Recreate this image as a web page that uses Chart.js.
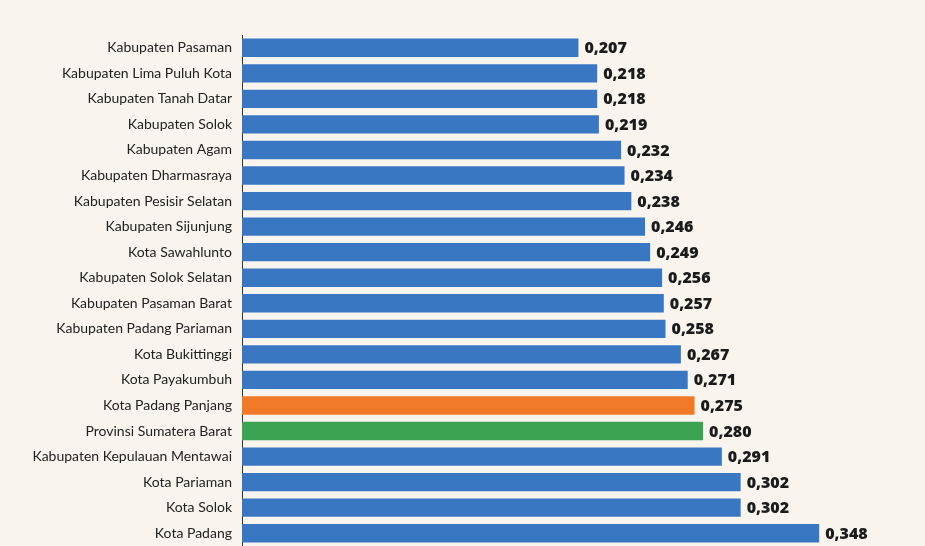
<html lang="id">
<head>
  <meta charset="UTF-8">
  <title>Indeks per Kabupaten/Kota</title>
  <script src="https://cdn.jsdelivr.net/npm/chart.js"></script>
  <style>
    body {
      margin: 0;
      padding: 0;
      background-color: #f9f5ee;
    }
    #wrap {
      width: 925px;
      height: 546px;
    }
  </style>
</head>
<body>
  <div id="wrap">
    <canvas id="barChart" width="925" height="546"></canvas>
  </div>
  <script>
    // data
    const regions = [
      'Kabupaten Pasaman',
      'Kabupaten Lima Puluh Kota',
      'Kabupaten Tanah Datar',
      'Kabupaten Solok',
      'Kabupaten Agam',
      'Kabupaten Dharmasraya',
      'Kabupaten Pesisir Selatan',
      'Kabupaten Sijunjung',
      'Kota Sawahlunto',
      'Kabupaten Solok Selatan',
      'Kabupaten Pasaman Barat',
      'Kabupaten Padang Pariaman',
      'Kota Bukittinggi',
      'Kota Payakumbuh',
      'Kota Padang Panjang',
      'Provinsi Sumatera Barat',
      'Kabupaten Kepulauan Mentawai',
      'Kota Pariaman',
      'Kota Solok',
      'Kota Padang'
    ];
    const values = [
      0.207, 0.218, 0.218, 0.219, 0.232, 0.234, 0.238, 0.246, 0.249, 0.256,
      0.257, 0.258, 0.267, 0.271, 0.275, 0.280, 0.291, 0.302, 0.302, 0.348
    ];

    // colours
    const baseColor = '#3a77c2';
    const highlightColors = {
      'Kota Padang Panjang': '#f07a28',
      'Provinsi Sumatera Barat': '#3ba453'
    };
    const barColors = regions.map(r => highlightColors[r] || baseColor);

    function fmt(v) {
      return v.toFixed(3).replace('.', ',');
    }

    // value text at the end of each bar
    const valueLabels = {
      id: 'valueLabels',
      afterDatasetsDraw(chart) {
        const ctx = chart.ctx;
        const meta = chart.getDatasetMeta(0);
        ctx.save();
        ctx.font = '800 16px "Open Sans"';
        ctx.fillStyle = '#1b1b1b';
        ctx.textAlign = 'left';
        ctx.textBaseline = 'middle';
        meta.data.forEach((bar, i) => {
          ctx.fillText(fmt(values[i]), bar.x + 6, bar.y + 1);
        });
        ctx.restore();
      }
    };

    const ctx = document.getElementById('barChart').getContext('2d');
    const chart = new Chart(ctx, {
      type: 'bar',
      data: {
        labels: regions,
        datasets: [{
          data: values,
          backgroundColor: barColors,
          borderWidth: 0,
          categoryPercentage: 1,
          barPercentage: 0.72
        }]
      },
      options: {
        indexAxis: 'y',
        responsive: false,
        animation: false,
        layout: {
          padding: { top: 35, right: 17, bottom: 0, left: 0 }
        },
        plugins: {
          legend: { display: false },
          tooltip: { enabled: false }
        },
        scales: {
          x: {
            display: false,
            min: 0.01,
            max: 0.4
          },
          y: {
            afterFit(scale) {
              scale.width = 242;
              // no extra room above/below for the label boxes
              scale.paddingTop = 0;
              scale.paddingBottom = 0;
            },
            grid: { display: false, drawTicks: false },
            border: { display: true, color: '#333333', width: 1 },
            ticks: {
              padding: 10,
              color: '#222222',
              font: { family: 'Lato', size: 14 }
            }
          }
        }
      },
      plugins: [valueLabels]
    });
  </script>
</body>
</html>
